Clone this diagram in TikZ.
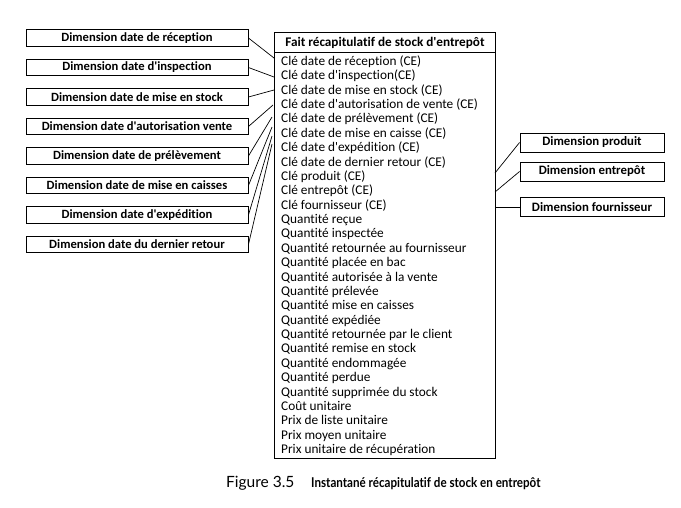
\documentclass[tikz,border=0pt]{standalone}
\usepackage{fontspec}
\setmainfont{Carlito}[Ligatures={TeXOff,NoCommon}]
\newfontfamily\capfont{Lato}[Ligatures={TeXOff,NoCommon}]
\begin{document}
\begin{tikzpicture}[x=1pt,y=-1pt,
  dimbox/.style={draw, line width=0.9pt, minimum width=222pt, minimum height=16.5pt, inner sep=0pt,
    font=\bfseries\fontsize{12.6}{13}\selectfont},
  rdim/.style={draw, line width=0.9pt, minimum width=144pt, minimum height=19pt, inner sep=0pt,
    font=\bfseries\fontsize{12.8}{13}\selectfont},
  factbox/.style={draw, line width=0.9pt, minimum width=221pt, inner sep=0pt, anchor=north west},
  rowtxt/.style={anchor=base west, inner sep=0pt, font=\fontsize{13.3}{14}\selectfont},
  link/.style={line width=0.7pt}]
\useasboundingbox (0,0) rectangle (681,507);

% fact table
\node[factbox, minimum height=20pt, font=\bfseries\fontsize{13.2}{14}\selectfont] (head) at (274,32) {Fait récapitulatif de stock d'entrepôt};
\node[factbox, minimum height=406pt] (body) at (274,52) {};

\foreach \t [count=\i from 0] in {
  Clé date de réception (CE),
  Clé date d'inspection(CE),
  Clé date de mise en stock (CE),
  Clé date d'autorisation de vente (CE),
  Clé date de prélèvement (CE),
  Clé date de mise en caisse (CE),
  Clé date d'expédition (CE),
  Clé date de dernier retour (CE),
  Clé produit (CE),
  Clé entrepôt (CE),
  Clé fournisseur (CE),
  Quantité reçue,
  Quantité inspectée,
  Quantité retournée au fournisseur,
  Quantité placée en bac,
  Quantité autorisée à la vente,
  Quantité prélevée,
  Quantité mise en caisses,
  Quantité expédiée,
  Quantité retournée par le client,
  Quantité remise en stock,
  Quantité endommagée,
  Quantité perdue,
  Quantité supprimée du stock,
  Coût unitaire,
  Prix de liste unitaire,
  Prix moyen unitaire,
  Prix unitaire de récupération}
  \node[rowtxt] (r\i) at (281, 65.5+14.37*\i) {\t};

% left dimensions
\node[dimbox] (d1) at (137,38)    {Dimension date de réception};
\node[dimbox] (d2) at (137,67.5)  {Dimension date d'inspection};
\node[dimbox] (d3) at (137,97)    {Dimension date de mise en stock};
\node[dimbox] (d4) at (137,126.5) {Dimension date d'autorisation vente};
\node[dimbox] (d5) at (137,156)   {Dimension date de prélèvement};
\node[dimbox] (d6) at (137,185.5) {Dimension date de mise en caisses};
\node[dimbox] (d7) at (137,215)   {Dimension date d'expédition};
\node[dimbox] (d8) at (137,244.5) {Dimension date du dernier retour};

\coordinate (c1) at (274,58);
\coordinate (c2) at (274,77);
\coordinate (c3) at (274,90);
\coordinate (c4) at (273,105);
\coordinate (c5) at (272,117);
\coordinate (c6) at (272,127);
\coordinate (c7) at (272,136);
\coordinate (c8) at (272,144);
\foreach \i in {1,...,8} \draw[link] (d\i.east) -- (c\i);

% right dimensions
\node[rdim] (p1) at (592,142.5) {Dimension produit};
\node[rdim] (p2) at (592,171.5) {Dimension entrepôt};
\node[rdim] (p3) at (592,207)   {Dimension fournisseur};
\coordinate (e1) at (495,173);
\coordinate (e2) at (495,192);
\coordinate (e3) at (495,207);
\foreach \i in {1,2,3} \draw[link] (e\i) -- (p\i.west);

% caption
\node[anchor=base west, inner sep=0pt, font=\capfont\fontsize{15.5}{18}\selectfont] (capnum) at (226,487) {Figure 3.5};
\node[anchor=base west, inner sep=0pt, font=\capfont\bfseries\fontsize{13.5}{18}\selectfont] (captxt) at (311,487)
  {\scalebox{0.86}[1]{Instantané récapitulatif de stock en entrepôt}};
\end{tikzpicture}
\end{document}
